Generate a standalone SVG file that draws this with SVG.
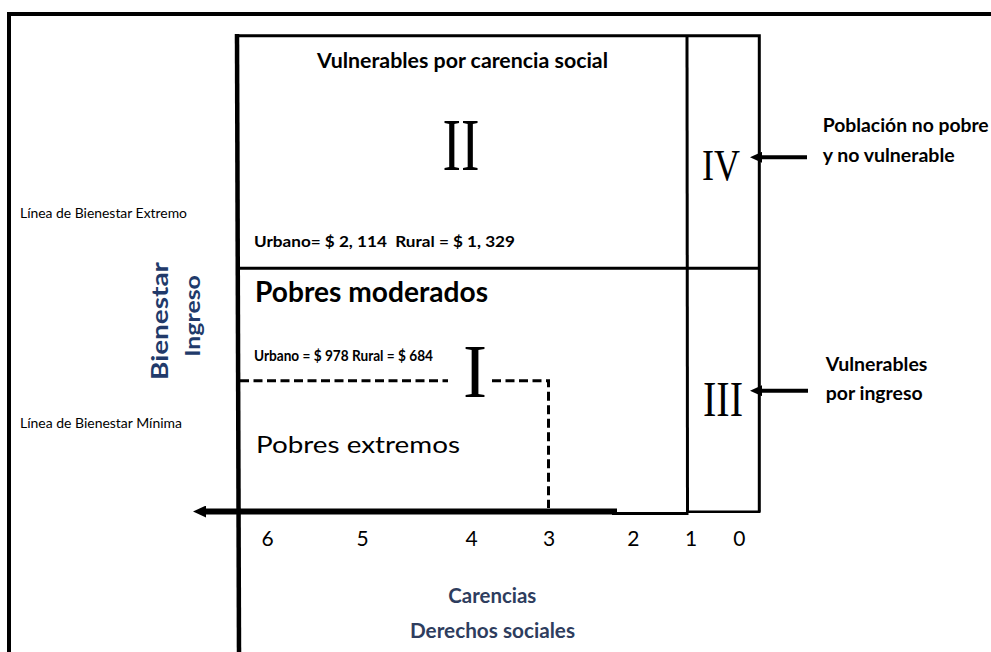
<svg xmlns="http://www.w3.org/2000/svg" width="991" height="652" viewBox="0 0 991 652">
<style>
.ln{stroke:#000;fill:none;stroke-linecap:butt}
.sans{font-family:Lato,"Open Sans","Liberation Sans",sans-serif;fill:#000}
.b{font-weight:bold}
.serif{font-family:"Liberation Serif","DejaVu Serif",serif;fill:#000}
.blue{fill:#213A6A}
.slate{fill:#2E3D5E}
</style>
<defs>
<marker id="ah" markerUnits="userSpaceOnUse" viewBox="0 0 12 11" refX="3" refY="5.5" markerWidth="12" markerHeight="11" orient="auto">
<path d="M0,0 L12,5.5 L0,11 z" fill="#000"/>
</marker>
<marker id="ahAxis" markerUnits="userSpaceOnUse" viewBox="0 0 13 12" refX="4" refY="6" markerWidth="13" markerHeight="12" orient="auto">
<path d="M0,0 L13,6 L0,12 z" fill="#000"/>
</marker>
</defs>
<rect width="991" height="652" fill="#fff"/>

<g id="frame">
<path class="ln" d="M9,652 V14 H991" stroke-width="4"/>
</g>

<g id="axes">
<path class="ln" d="M237,34 L239,652" stroke-width="4.5"/>
<path class="ln" d="M236,35.7 H759.3 V511.7" stroke-width="3"/>
<line class="ln" x1="687" y1="35.7" x2="687.5" y2="512" stroke-width="3"/>
<line class="ln" x1="239" y1="268.3" x2="759.3" y2="268.3" stroke-width="3"/>
<line class="ln" x1="687" y1="511.7" x2="760.5" y2="511.7" stroke-width="2.5"/>
<line class="ln" x1="612" y1="513.5" x2="688.5" y2="513.5" stroke-width="3"/>
</g>

<g id="quadrant-II">
<text class="sans b" x="317" y="68.3" font-size="21" textLength="291" lengthAdjust="spacingAndGlyphs">Vulnerables por carencia social</text>
<text class="serif" x="461" y="170" font-size="75" text-anchor="middle" textLength="37" lengthAdjust="spacingAndGlyphs">II</text>
<text class="sans b" x="254" y="246.7" font-size="16" textLength="261" lengthAdjust="spacingAndGlyphs">Urbano= $ 2, 114 &#160;Rural = $ 1, 329</text>
</g>

<g id="quadrant-I">
<text class="sans b" x="255" y="301.7" font-size="29" textLength="233" lengthAdjust="spacingAndGlyphs">Pobres moderados</text>
<text class="sans b" x="254" y="360.5" font-size="15" textLength="179" lengthAdjust="spacingAndGlyphs">Urbano = $ 978 Rural = $ 684</text>
<text class="serif" x="475" y="397" font-size="77" text-anchor="middle" textLength="24" lengthAdjust="spacingAndGlyphs">I</text>
<path class="ln" d="M240,380.7 H448 M492,380.7 H548.5 V508" stroke-width="3" stroke-dasharray="9 4.5"/>
<text class="sans" x="256" y="453" font-size="23" textLength="204" lengthAdjust="spacingAndGlyphs">Pobres extremos</text>
</g>

<g id="quadrant-IV">
<text class="serif" x="721" y="180" font-size="45" text-anchor="middle" textLength="38" lengthAdjust="spacingAndGlyphs">IV</text>
<text class="sans b" x="822.7" y="131.7" font-size="18.5" textLength="166" lengthAdjust="spacingAndGlyphs">Población no pobre</text>
<text class="sans b" x="822.7" y="161.7" font-size="18.5" textLength="132" lengthAdjust="spacingAndGlyphs">y no vulnerable</text>
</g>

<g id="quadrant-III">
<text class="serif" x="723" y="416" font-size="50" text-anchor="middle" textLength="40" lengthAdjust="spacingAndGlyphs">III</text>
<text class="sans b" x="825.7" y="370.7" font-size="19.5" textLength="101.7" lengthAdjust="spacingAndGlyphs">Vulnerables</text>
<text class="sans b" x="825.7" y="400" font-size="19.5" textLength="97" lengthAdjust="spacingAndGlyphs">por ingreso</text>
</g>

<g id="lineas">
<text class="sans" x="20" y="218.3" font-size="14" textLength="167" lengthAdjust="spacingAndGlyphs">Línea de Bienestar Extremo</text>
<text class="sans" x="20" y="428.3" font-size="14" textLength="162" lengthAdjust="spacingAndGlyphs">Línea de Bienestar Mínima</text>
</g>

<g id="eje-y">
<text class="sans b blue" transform="translate(168.3,321) rotate(-90)" font-size="23" text-anchor="middle" textLength="118" lengthAdjust="spacingAndGlyphs">Bienestar</text>
<text class="sans b blue" transform="translate(200,316) rotate(-90)" font-size="20" text-anchor="middle" textLength="81.7" lengthAdjust="spacingAndGlyphs">Ingreso</text>
</g>

<g id="eje-x">
<g class="sans" font-size="21" text-anchor="middle">
<text x="267.5" y="546">6</text>
<text x="362.5" y="546">5</text>
<text x="471.7" y="546">4</text>
<text x="549" y="546">3</text>
<text x="633.3" y="546">2</text>
<text x="691" y="546">1</text>
<text x="739.3" y="546">0</text>
</g>
<text class="sans b slate" x="448.3" y="603" font-size="20" textLength="88" lengthAdjust="spacingAndGlyphs">Carencias</text>
<text class="sans b slate" x="410" y="638.3" font-size="20" textLength="165" lengthAdjust="spacingAndGlyphs">Derechos sociales</text>
</g>

<g id="connectors">
<line class="ln" x1="617" y1="511.5" x2="202" y2="511.5" stroke-width="6" marker-end="url(#ahAxis)"/>
<line class="ln" x1="807" y1="157.3" x2="759" y2="157.3" stroke-width="4" marker-end="url(#ah)"/>
<line class="ln" x1="808" y1="390.7" x2="759" y2="390.7" stroke-width="4" marker-end="url(#ah)"/>
</g>
</svg>
